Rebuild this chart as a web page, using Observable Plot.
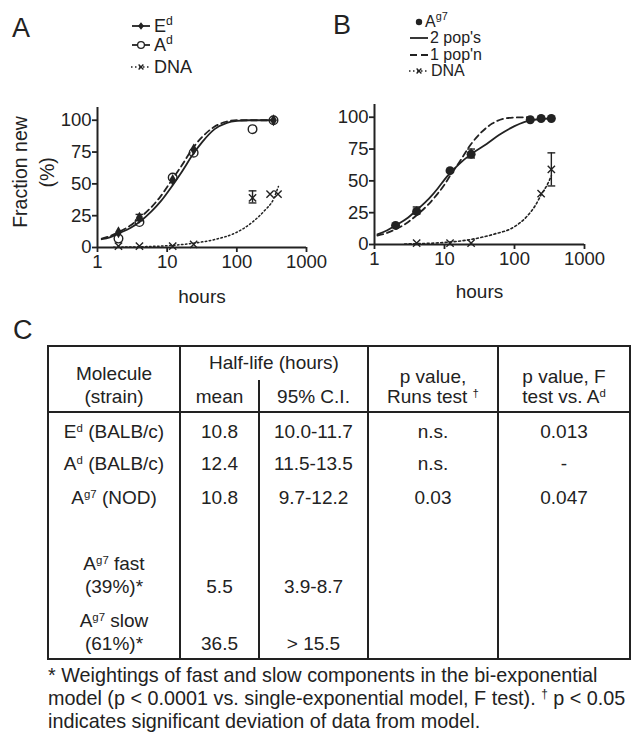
<!DOCTYPE html>
<html>
<head>
<meta charset="utf-8">
<script src="https://cdn.jsdelivr.net/npm/d3@7"></script>
<script src="https://cdn.jsdelivr.net/npm/@observablehq/plot@0.6"></script>
<style>
  html, body { margin: 0; padding: 0; background: #fff; }
  #fig { position: relative; width: 636px; height: 735px; overflow: hidden; background: #fff;
         font-family: "Liberation Sans", Arial, Helvetica, sans-serif; color: #222; }
  .t { position: absolute; white-space: nowrap; line-height: 1; }
  .c { transform: translateX(-50%); }
  .sup { font-size: 0.6em; vertical-align: 0.55em; line-height: 0; }
  .lsup { font-size: 0.68em; vertical-align: 0.6em; line-height: 0; }
  .ln { position: absolute; background: #222; }
  .panel { position: absolute; top: 0; }
  .sw { position: absolute; overflow: visible; }
  .ylab { position: absolute; white-space: nowrap; text-align: center;
          writing-mode: vertical-rl; transform: translate(-50%, -50%) rotate(180deg); }
  @supports (writing-mode: sideways-lr) {
    .ylab { writing-mode: sideways-lr; transform: translate(-50%, -50%); }
  }
</style>
</head>
<body>
<div id="fig"></div>
<script>
// ---------------- DATA ----------------
const xTicks = [1, 10, 100, 1000];
const yTicks = [0, 25, 50, 75, 100];
const xLabel = "hours";
const yLabelLines = ["Fraction new", "(%)"];

// Panel A measured points (hours, % new)
const tA_Ed = [2, 4, 12, 24, 336];
const yA_Ed = [12, 23.5, 53, 77, 100];
const tA_Ad = [2, 4, 12, 24, 168, 336];
const yA_Ad = [7, 20, 55, 74.5, 93, 100];
const tA_DNA = [2, 4, 12, 24, 168, 300, 390];
const yA_DNA = [1, 1, 1, 2.5, 39, 42, 42];
const errA_t = [4, 168];
const errA_lo = [21, 35];
const errA_hi = [26, 44.5];
// Panel A fitted curves
const fitA_t   = [1.15, 1.5, 2, 3, 4, 6, 8, 12, 16, 24, 32, 48, 72, 100, 150, 336];
const fitA_Ed  = [7, 9, 12, 17.5, 23, 32, 40, 54, 64, 79, 87, 95, 99, 100, 100, 100];
const fitA_Ad  = [6.5, 8, 11, 15.5, 20, 28.5, 36, 49, 59, 74, 83, 93, 98, 99.5, 100, 100];
const fitA_DNAt = [1.7, 3, 5, 10, 24, 50, 100, 168, 250, 336, 395];
const fitA_DNAy = [0.2, 0.4, 0.7, 1.4, 3.4, 6.5, 12, 20, 29, 38, 48];

// Panel B measured points
const tB_Ag7 = [2, 4, 12, 24, 168, 240, 336];
const yB_Ag7 = [15, 26, 58, 71, 98, 99, 99];
const tB_DNA = [4, 12, 24, 240, 336];
const yB_DNA = [1, 1, 1, 40, 59];
const errB_t = [4, 24, 336];
const errB_lo = [24, 68, 46];
const errB_hi = [29.5, 75, 72];
// Panel B fitted curves
const fitB2_t = [1.1, 1.5, 2, 3, 4, 6, 8, 10, 12, 16, 24, 40, 60, 100, 168, 336];
const fitB2_y = [8, 11, 15, 21, 27, 36, 44, 51, 56, 63, 71, 79, 86, 93, 97.5, 99];
const fitB1_t = [1.1, 1.5, 2, 3, 4, 6, 8, 10, 12, 16, 24, 32, 48, 72, 100, 168];
const fitB1_y = [7, 9, 12, 17.5, 23, 32, 40, 47, 54, 64, 79, 87, 95, 99, 99.8, 100];
const fitB_DNAt = [2.7, 5, 10, 24, 50, 100, 150, 200, 240, 300, 336];
const fitB_DNAy = [0.4, 0.8, 1.6, 4, 8, 14, 22, 31, 39, 48, 54];

// Legends
const legendA = ['E<span class="lsup">d</span>', 'A<span class="lsup">d</span>', 'DNA'];
const legendB = ['A<span class="lsup">g7</span>', "2 pop's", "1 pop'n", 'DNA'];

// Table C
const headMolecule = ["Molecule", "(strain)"];
const headHalf = "Half-life (hours)";
const headMean = "mean";
const headCI = "95% C.I.";
const headRuns = ["p value,", 'Runs test <span class="sup">†</span>'];
const headF = ["p value, F", 'test vs. A<span class="sup">d</span>'];
const molecules = [
  ['E<span class="sup">d</span> (BALB/c)'],
  ['A<span class="sup">d</span> (BALB/c)'],
  ['A<span class="sup">g7</span> (NOD)'],
  ['A<span class="sup">g7</span> fast', '(39%)*'],
  ['A<span class="sup">g7</span> slow', '(61%)*']
];
const meanHL = ["10.8", "12.4", "10.8", "5.5", "36.5"];
const ci95 = ["10.0-11.7", "11.5-13.5", "9.7-12.2", "3.9-8.7", "&gt; 15.5"];
const runsP = ["n.s.", "n.s.", "0.03", "", ""];
const fTestP = ["0.013", "-", "0.047", "", ""];
const footnote = [
  "* Weightings of fast and slow components in the bi-exponential",
  'model (p &lt; 0.0001 vs. single-exponential model, F test). <span class="sup">†</span> p &lt; 0.05',
  "indicates significant deviation of data from model."
];

// ---------------- DRAW ----------------
const FONT = '"Liberation Sans", Arial, Helvetica, sans-serif';
const INK = "#222";
const fig = document.getElementById("fig");
const zip = (xs, ys) => xs.map((x, i) => ({x, y: ys[i]}));
const errs = (t, lo, hi) => t.map((x, i) => ({x, lo: lo[i], hi: hi[i]}));
const capSym = {draw(ctx, size) { const w = Math.sqrt(size); ctx.moveTo(-w, 0); ctx.lineTo(w, 0); }};

function addText(html, x, baseline, size, center = false, lh = 1) {
  const d = document.createElement("div");
  d.className = "t" + (center ? " c" : "");
  d.style.fontSize = size + "px";
  d.style.lineHeight = lh;
  d.style.left = x + "px";
  d.style.top = (baseline - (lh / 2 + 0.3465) * size) + "px";
  d.innerHTML = html;
  fig.appendChild(d);
  return d;
}
function line(x, y, w, h) {
  const d = document.createElement("div");
  d.className = "ln";
  Object.assign(d.style, {left: x + "px", top: y + "px", width: w + "px", height: h + "px"});
  fig.appendChild(d);
}

function axes() {
  return [
    Plot.ruleY([0], {stroke: INK, strokeWidth: 2}),
    Plot.ruleX([1], {stroke: INK, strokeWidth: 2}),
    Plot.axisX({ticks: xTicks, tickFormat: d => String(d), tickSize: 5, tickPadding: 2, strokeWidth: 1.8, label: null, fontSize: 18.5}),
    Plot.axisY({ticks: yTicks, tickSize: 5, tickPadding: 1, strokeWidth: 1.8, label: null, fontSize: 18.5})
  ];
}
function errorBars(data) {
  return [
    Plot.ruleX(data, {x: "x", y1: "lo", y2: "hi", stroke: INK, strokeWidth: 1.4}),
    Plot.dot(data, {x: "x", y: "lo", symbol: capSym, r: 2.2, stroke: INK, strokeWidth: 1.4}),
    Plot.dot(data, {x: "x", y: "hi", symbol: capSym, r: 2.2, stroke: INK, strokeWidth: 1.4})
  ];
}
function makePlot(m, marks) {
  return Plot.plot({
    width: m.w, height: 320,
    marginLeft: m.ml, marginRight: m.mr, marginTop: m.mt, marginBottom: m.mb,
    style: {fontFamily: FONT, fontSize: "18.5px", color: INK, background: "transparent", overflow: "visible"},
    x: {type: "log", domain: [1, 1000]},
    y: {domain: [0, 110]},
    marks
  });
}

// Panel A
const plotA = makePlot({w: 318, ml: 97, mr: 12, mt: 107, mb: 73}, [
  ...axes(),
  Plot.line(zip(fitA_DNAt, fitA_DNAy), {x: "x", y: "y", stroke: INK, strokeWidth: 1.5, strokeDasharray: "1.5,2.5", curve: "monotone-x"}),
  Plot.line(zip(fitA_t, fitA_Ad), {x: "x", y: "y", stroke: INK, strokeWidth: 1.8, curve: "monotone-x"}),
  Plot.line(zip(fitA_t, fitA_Ed), {x: "x", y: "y", stroke: INK, strokeWidth: 1.8, strokeDasharray: "6,4", curve: "monotone-x"}),
  ...errorBars(errs(errA_t, errA_lo, errA_hi)),
  Plot.dot(zip(tA_Ad, yA_Ad), {x: "x", y: "y", symbol: "circle", r: 4.3, stroke: INK, fill: "none", strokeWidth: 1.4}),
  Plot.dot(zip(tA_Ed, yA_Ed), {x: "x", y: "y", symbol: "diamond", r: 3.6, fill: INK}),
  Plot.dot(zip(tA_DNA, yA_DNA), {x: "x", y: "y", symbol: "times", r: 3.4, stroke: INK, strokeWidth: 1.4}),
  Plot.text([xLabel], {frameAnchor: "bottom", dy: 49, fontSize: 19, lineAnchor: "middle"})
]);
plotA.classList.add("panel");
plotA.style.left = "0px";
fig.appendChild(plotA);

// Y-axis title of panel A (vertical, reading bottom-to-top, two lines)
const yl = document.createElement("div");
yl.className = "ylab";
Object.assign(yl.style, {left: "33.5px", top: "172px", fontSize: "19.5px", lineHeight: "27px"});
yl.innerHTML = yLabelLines.join("<br>");
fig.appendChild(yl);

// Panel B
const plotB = makePlot({w: 318, ml: 56, mr: 52, mt: 104, mb: 76}, [
  ...axes(),
  Plot.line(zip(fitB_DNAt, fitB_DNAy), {x: "x", y: "y", stroke: INK, strokeWidth: 1.6, strokeDasharray: "2,2.5", curve: "monotone-x"}),
  Plot.line(zip(fitB2_t, fitB2_y), {x: "x", y: "y", stroke: INK, strokeWidth: 1.8, curve: "monotone-x"}),
  Plot.line(zip(fitB1_t, fitB1_y), {x: "x", y: "y", stroke: INK, strokeWidth: 1.8, strokeDasharray: "6,4", curve: "monotone-x"}),
  ...errorBars(errs(errB_t, errB_lo, errB_hi)),
  Plot.dot(zip(tB_Ag7, yB_Ag7), {x: "x", y: "y", symbol: "circle", r: 4.5, fill: INK}),
  Plot.dot(zip(tB_DNA, yB_DNA), {x: "x", y: "y", symbol: "times", r: 3.4, stroke: INK, strokeWidth: 1.4}),
  Plot.text([xLabel], {frameAnchor: "bottom", dy: 47, fontSize: 19, lineAnchor: "middle"})
]);
plotB.classList.add("panel");
plotB.style.left = "318px";
fig.appendChild(plotB);

// Panel letters
addText("A", 12, 38, 27);
addText("B", 333, 35, 27);
addText("C", 13, 340, 27);

// Legend swatches
function swatch(x, cy, kind) {
  const ns = "http://www.w3.org/2000/svg";
  const s = document.createElementNS(ns, "svg");
  s.setAttribute("class", "sw");
  s.setAttribute("width", 22); s.setAttribute("height", 14);
  s.style.left = x + "px"; s.style.top = (cy - 7) + "px";
  let g = "";
  if (kind.line === "solid") g += `<line x1="2" x2="20" y1="7" y2="7" stroke="${INK}" stroke-width="1.8"/>`;
  if (kind.line === "dash") g += `<line x1="2" x2="20" y1="7" y2="7" stroke="${INK}" stroke-width="1.8" stroke-dasharray="7,4"/>`;
  if (kind.line === "dot") g += `<line x1="1" x2="21" y1="7" y2="7" stroke="${INK}" stroke-width="1.5" stroke-dasharray="1.5,2.5"/>`;
  if (kind.m === "diamond") g += `<path d="M11,3.2L14,7L11,10.8L8,7Z" fill="${INK}"/>`;
  if (kind.m === "circle") g += `<circle cx="11" cy="7" r="3.4" fill="#fff" stroke="${INK}" stroke-width="1.3"/>`;
  if (kind.m === "dotfill") g += `<circle cx="11" cy="7" r="3.2" fill="${INK}"/>`;
  if (kind.m === "times") g += `<path d="M8.6,4.6L13.4,9.4M13.4,4.6L8.6,9.4" stroke="${INK}" stroke-width="1.4"/>`;
  s.innerHTML = g;
  fig.appendChild(s);
}
const legAKinds = [{line: "solid", m: "diamond"}, {line: "solid", m: "circle"}, {line: "dot", m: "times"}];
const legABase = [32, 51.5, 73];
legendA.forEach((lab, i) => {
  swatch(130, legABase[i] - 6.5, legAKinds[i]);
  addText(lab, 154, legABase[i], 18, false, 0.9);
});
const legBKinds = [{m: "dotfill"}, {line: "solid"}, {line: "dash"}, {line: "dot", m: "times"}];
const legBBase = [27.5, 44, 60.5, 77];
const legBText = [425, 430, 430, 431];
legendB.forEach((lab, i) => {
  swatch(408, legBBase[i] - 6, legBKinds[i]);
  addText(lab, legBText[i], legBBase[i], 16, false, 0.8);
});

// Table C
const TL = 48, TR = 630, TT = 346, TB = 659, HB = 412;
const cols = [48, 180, 259, 368, 498, 630];
const LW = 2;
line(TL - 1, TT - 1, TR - TL + 2, LW);
line(TL - 1, TB - 1, TR - TL + 2, LW);
line(TL - 1, HB - 1, TR - TL + 2, LW);
[TL, cols[1], cols[3], cols[4], TR].forEach(x => line(x - 1, TT - 1, LW, TB - TT + 2));
line(cols[2] - 1, 380, LW, TB - 380);
const mid = (a, b) => (a + b) / 2;
const FS = 19;
addText(headMolecule[0], mid(cols[0], cols[1]), 380, FS, true);
addText(headMolecule[1], mid(cols[0], cols[1]), 403, FS, true);
addText(headHalf, mid(cols[1], cols[3]), 369, FS, true);
addText(headMean, mid(cols[1], cols[2]), 403, FS, true);
addText(headCI, mid(cols[2], cols[3]), 403, FS, true);
addText(headRuns[0], mid(cols[3], cols[4]), 383, FS, true);
addText(headRuns[1], mid(cols[3], cols[4]), 403, FS, true);
addText(headF[0], mid(cols[4], cols[5]), 383, FS, true);
addText(headF[1], mid(cols[4], cols[5]), 403, FS, true);
const rowBase = [438, 470.5, 504, 593, 650];
molecules.forEach((m, i) => {
  if (m.length === 1) addText(m[0], mid(cols[0], cols[1]), rowBase[i], FS, true);
  else {
    addText(m[0], mid(cols[0], cols[1]), rowBase[i] - 22.5, FS, true);
    addText(m[1], mid(cols[0], cols[1]), rowBase[i], FS, true);
  }
  addText(meanHL[i], mid(cols[1], cols[2]), rowBase[i], FS, true);
  addText(ci95[i], mid(cols[2], cols[3]), rowBase[i], FS, true);
  if (runsP[i]) addText(runsP[i], mid(cols[3], cols[4]), rowBase[i], FS, true);
  if (fTestP[i]) addText(fTestP[i], mid(cols[4], cols[5]), rowBase[i], FS, true);
});
const footBase = [683, 706, 729];
footnote.forEach((f, i) => addText(f, 48, footBase[i], 19.8));
</script>
</body>
</html>
